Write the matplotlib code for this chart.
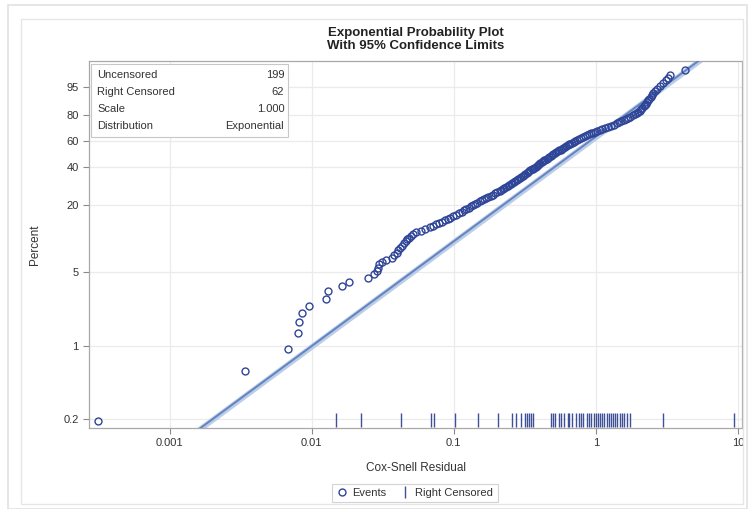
import numpy as np
import matplotlib
matplotlib.use('Agg')
import matplotlib.pyplot as plt
from matplotlib.lines import Line2D
from matplotlib.patches import Rectangle
import matplotlib.transforms as mtransforms

plt.rcParams['font.family'] = ['Liberation Sans', 'DejaVu Sans']

# Cox-Snell residuals of the events (uncensored) and their plotting percents
ev_x = [0.000311, 0.00337, 0.00678, 0.00797, 0.0081, 0.0085, 0.00953, 0.01255,
        0.01297, 0.01627, 0.01823, 0.0248, 0.0273, 0.0287, 0.0292, 0.0296,
        0.0312, 0.0335, 0.0366,
        0.0380, 0.0395, 0.0405, 0.0418, 0.0430, 0.0445, 0.0458, 0.0470, 0.0485, 0.0500, 0.0515,
        0.0545, 0.0590, 0.0630, 0.0675, 0.0715,
        0.0745, 0.0790, 0.0830, 0.0870, 0.0905,
        0.0945, 0.0990, 0.1040, 0.1090,
        0.1143, 0.1184, 0.1227, 0.1271, 0.1318, 0.1365, 0.1416, 0.1468, 0.1520,
        0.1575, 0.1633, 0.1692, 0.1754, 0.1817, 0.1881, 0.1950, 0.2018, 0.2110,
        0.2163, 0.2218, 0.2275, 0.2333, 0.2393, 0.2449, 0.2512, 0.2576, 0.2642, 0.2710,
        0.2780, 0.2851, 0.2920,
        0.2979, 0.3048, 0.3112, 0.3177, 0.3251, 0.3319, 0.3388, 0.3459, 0.3540, 0.3614,
        0.3690, 0.3767, 0.3840,
        0.3917, 0.3999, 0.4074, 0.4159, 0.4246, 0.4325, 0.4416, 0.4508, 0.4590,
        0.4699, 0.4809, 0.4920, 0.5035, 0.5152, 0.5272, 0.5395, 0.5521, 0.5649, 0.5768,
        0.5902, 0.6039, 0.6180, 0.6324, 0.6471, 0.6560,
        0.6761, 0.6982, 0.7194, 0.7430, 0.7656, 0.7907, 0.8147, 0.8414, 0.8670, 0.8954,
        0.9226, 0.9528, 0.9817, 1.016,
        1.064, 1.114, 1.167, 1.225, 1.282, 1.343, 1.406,
        1.459, 1.514, 1.570, 1.629, 1.690, 1.754, 1.820, 1.888, 1.944,
        1.991, 2.032, 2.080, 2.128, 2.173, 2.214,
        2.254, 2.296, 2.344, 2.388, 2.432, 2.477, 2.520,
        2.612, 2.716, 2.838, 2.960, 3.10, 3.20, 3.32, 4.24]
ev_pct = [0.19, 0.57, 0.93, 1.33, 1.69, 2.06, 2.40, 2.80,
          3.27, 3.65, 3.98, 4.34, 4.74, 5.10, 5.45, 5.85,
          6.10, 6.40, 6.70,
          7.1, 7.5, 7.9, 8.3, 8.7, 9.1, 9.5, 9.9, 10.3, 10.7, 11.1,
          11.5, 11.9, 12.3, 12.7, 13.1,
          13.5, 13.9, 14.3, 14.7, 15.1,
          15.5, 15.9, 16.4, 16.9,
          17.4, 17.9, 18.4, 18.9, 19.4, 19.9, 20.4, 20.9, 21.4,
          21.9, 22.4, 22.9, 23.4, 23.9, 24.4, 24.9, 25.4, 26.0,
          26.55, 27.1, 27.65, 28.2, 28.75, 29.3, 29.85, 30.4, 30.95, 31.5,
          32.05, 32.6, 33.1,
          33.7, 34.3, 34.9, 35.5, 36.1, 36.7, 37.3, 37.9, 38.5, 39.1,
          39.7, 40.3, 40.8,
          41.45, 42.1, 42.75, 43.4, 44.05, 44.7, 45.35, 46.0, 46.6,
          47.3, 48.0, 48.7, 49.4, 50.1, 50.8, 51.5, 52.2, 52.9, 53.6,
          54.3, 55.0, 55.7, 56.4, 57.1, 57.5,
          58.25, 59.0, 59.75, 60.5, 61.25, 62.0, 62.75, 63.5, 64.25, 65.0,
          65.75, 66.5, 67.25, 68.1,
          68.9, 69.7, 70.5, 71.3, 72.1, 72.9, 73.7,
          74.55, 75.4, 76.25, 77.1, 77.95, 78.8, 79.65, 80.5, 81.2,
          82.1, 83.0, 83.9, 84.8, 85.7, 86.4,
          87.3, 88.2, 89.1, 90.0, 90.9, 91.8, 92.6,
          93.4, 94.2, 95.1, 96.0, 96.9, 97.4, 97.95, 98.7]

# Cox-Snell residuals of the right censored observations
cens_x = [0.0147, 0.0223, 0.0423, 0.069, 0.072, 0.102, 0.147, 0.205, 0.256, 0.275,
          0.295, 0.316, 0.327, 0.339, 0.352, 0.364, 0.481, 0.498, 0.515, 0.552,
          0.570, 0.593, 0.635, 0.650, 0.681, 0.720, 0.757, 0.790, 0.811, 0.860,
          0.901, 0.930, 0.966, 1.000, 1.035, 1.07, 1.11, 1.15, 1.19, 1.23,
          1.28, 1.32, 1.37, 1.42, 1.47, 1.52, 1.57, 1.66, 1.75, 2.95, 9.33]

# fitted exponential (scale) and its 95% confidence limits
scale = 1.000
scale_lo = 0.93
scale_hi = 1.08
x_line = np.logspace(-3.6, 1.1, 200)

stats_lab = ['Uncensored', 'Right Censored', 'Scale', 'Distribution']
stats_val = ['199', '62', '1.000', 'Exponential']

y_ticks = [0.2, 1, 5, 20, 40, 60, 80, 95]
x_ticks = [0.001, 0.01, 0.1, 1, 10]
x_ticklabels = ['0.001', '0.01', '0.1', '1', '10']


def fwd(p):
    p = np.clip(np.asarray(p, dtype=float), 1e-9, 100 - 1e-9)
    return np.log10(-np.log(1 - p / 100))


def inv(y):
    return 100 * (1 - np.exp(-10 ** np.asarray(y, dtype=float)))


def cdf(x, s):
    return 100 * (1 - np.exp(-x / s))


fig = plt.figure(figsize=(7.48, 5.09), dpi=100)

# outer frames
fig.patches.append(Rectangle((8 / 748, 0), 739 / 748, 504 / 509, transform=fig.transFigure,
                             fill=False, edgecolor='#e2e2e2', lw=1.2))
fig.patches.append(Rectangle((21 / 748, 5 / 509), 722 / 748, 485 / 509, transform=fig.transFigure,
                             fill=False, edgecolor='#e6e6e6', lw=1.0))

ax = fig.add_axes([89 / 748, 81 / 509, 653 / 748, 367 / 509])
ax.set_xscale('log')
ax.set_yscale('function', functions=(fwd, inv))
ax.set_xlim(0.00027, 10.7)
ax.set_ylim(0.1646, 99.49)

# confidence band and fitted line
ax.fill_between(x_line, cdf(x_line, scale_hi), cdf(x_line, scale_lo),
                color='#bccde8', lw=0, zorder=2)
ax.plot(x_line, cdf(x_line, scale), color='#6384c0', lw=1.4, zorder=3)

# events
ax.plot(ev_x, ev_pct, 'o', ms=5, mfc='none', mec='#2f4597', mew=1.0, zorder=4)

# right censored rug
trans = mtransforms.blended_transform_factory(ax.transData, ax.transAxes)
ax.plot(cens_x, [0.022] * len(cens_x), '|', ms=10, mew=1.0, color='#3f5096',
        transform=trans, zorder=4)

ax.set_yticks(y_ticks)
ax.set_yticklabels([str(t) for t in y_ticks])
ax.set_xticks(x_ticks)
ax.set_xticklabels(x_ticklabels)
ax.minorticks_off()
ax.tick_params(axis='both', labelsize=8, colors='#333333', length=4, width=0.8,
               color='#8a8a8a')
ax.grid(True, color='#ebebeb', lw=0.9, zorder=0)
ax.set_axisbelow(True)
for sp in ax.spines.values():
    sp.set_color('#a8a8a8')
    sp.set_linewidth(0.9)

ax.set_xlabel('Cox-Snell Residual', fontsize=8.5, color='#333333', labelpad=10)
ax.set_ylabel('Percent', fontsize=8.5, color='#333333', labelpad=16)
ax.set_title('Exponential Probability Plot\nWith 95% Confidence Limits',
             fontsize=9.5, fontweight='bold', color='#222222', pad=9, linespacing=1.1)

# statistics inset
ax.add_patch(Rectangle((0.003, 0.793), 0.302, 0.199, transform=ax.transAxes,
                       facecolor='white', edgecolor='#c8c8c8', lw=0.8, zorder=5))
for i in range(len(stats_lab)):
    yy = 0.962 - i * 0.0465
    ax.text(0.013, yy, stats_lab[i], transform=ax.transAxes, fontsize=8,
            color='#333333', va='center', ha='left', zorder=6)
    ax.text(0.299, yy, stats_val[i], transform=ax.transAxes, fontsize=8,
            color='#333333', va='center', ha='right', zorder=6)

# legend
handles = [Line2D([], [], ls='none', marker='o', ms=5, mfc='none', mec='#2f4597', mew=1.0),
           Line2D([], [], ls='none', marker='|', ms=9, mew=1.0, color='#3f5096')]
leg = fig.legend(handles, ['Events', 'Right Censored'], loc='center',
                 bbox_to_anchor=(415 / 748, 16 / 509), ncol=2, fontsize=8,
                 frameon=True, fancybox=False, handlelength=1.0, handletextpad=0.4,
                 columnspacing=1.2, borderpad=0.4)
leg.get_frame().set_edgecolor('#c8c8c8')
leg.get_frame().set_linewidth(0.8)
for t in leg.get_texts():
    t.set_color('#333333')

fig.savefig('out.png', dpi=100)
